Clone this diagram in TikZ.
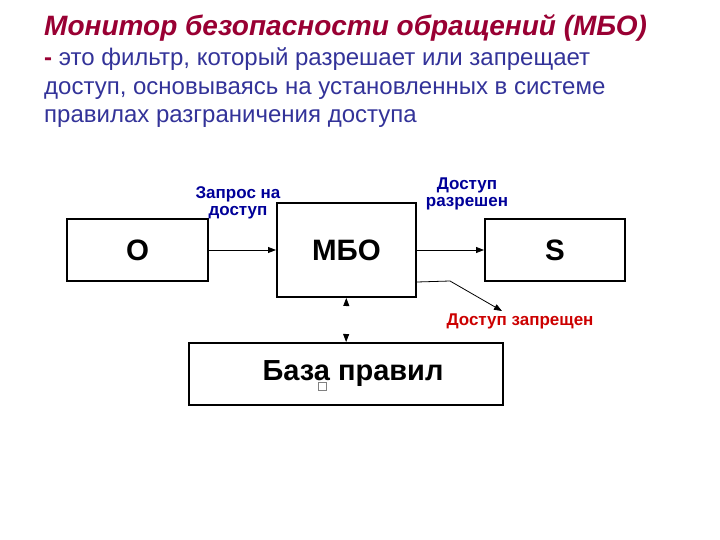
\documentclass[tikz,border=0pt]{standalone}
\usepackage{fontspec}
\setmainfont{Liberation Sans}
\usetikzlibrary{arrows,arrows.meta,positioning}
\definecolor{darkred}{HTML}{990033}
\definecolor{navy}{HTML}{333399}
\definecolor{lblue}{HTML}{000099}
\definecolor{lred}{HTML}{CC0000}
\tikzset{box/.style={rectangle,draw=black,line width=2pt,font=\bfseries\fontsize{29.5}{31}\selectfont},
 lab/.style={align=center,font=\bfseries\fontsize{17}{17}\selectfont,inner sep=0pt},
 txt/.style={anchor=base west,inner sep=0pt,font=\fontsize{24}{28}\selectfont,text=navy}}
\begin{document}
\begin{tikzpicture}[x=1pt,y=-1pt]
\useasboundingbox[fill=white] (0,0) rectangle (720,540);
% heading
\node (t1) [txt,text=darkred,font=\bfseries\itshape\fontsize{28}{30}\selectfont] at (44,36) {Монитор безопасности обращений (МБО)};
\node (t2) [txt] at (44,66) {\textcolor{darkred}{\textbf{-}} это фильтр, который разрешает или запрещает};
\node (t3) [txt] at (44,95) {доступ, основываясь на установленных в системе};
\node (t4) [txt] at (44,123) {правилах разграничения доступа};
% boxes
\node (o) [box,minimum width=141pt,minimum height=62pt] at (137.5,250) {O};
\node (mbo) [box,minimum width=139pt,minimum height=94pt] at (346.5,250) {МБО};
\node (s) [box,minimum width=140pt,minimum height=62pt] at (555,250) {S};
\node (db) [box,minimum width=314pt,minimum height=62pt,font=\bfseries\fontsize{29}{31}\selectfont] at (346,374) {\hspace{14pt}База правил};
\node (sq) [draw=gray,line width=0.6pt,minimum size=8pt,inner sep=0pt] at (322,386) {};
% labels
\node (l1) [lab,text=lblue] at (238,203) {Запрос на\\доступ};
\node (l2) [lab,text=lblue] at (467,194) {Доступ\\разрешен};
\node (l3) [lab,text=lred] at (520,321) {Доступ запрещен};
\coordinate (bend) at (450,281);
\coordinate (deny) at (502,311);
% arrows
\path[-{Triangle[length=8pt,width=6pt]},line width=0.8pt](o) edge (mbo);
\path[-{Triangle[length=8pt,width=6pt]},line width=0.8pt](mbo) edge (s);
\draw[-{Triangle[length=8pt,width=6pt]},line width=0.8pt](mbo.east |- o.south) -- (bend) -- (deny);
\path[{Triangle[length=8pt,width=6pt,black]}-{Triangle[length=8pt,width=6pt,black]},line width=0.8pt,draw=white](db) edge (mbo);
\end{tikzpicture}
\end{document}
